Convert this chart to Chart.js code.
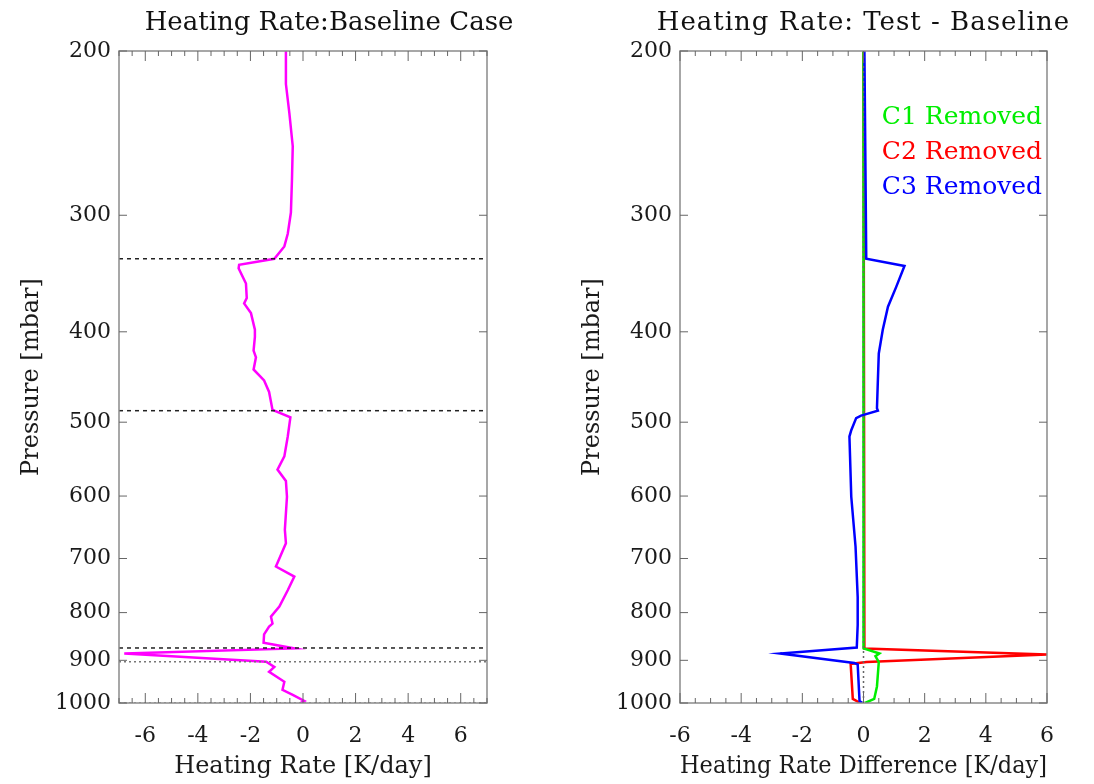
<!DOCTYPE html>
<html>
<head>
<meta charset="utf-8">
<script src="https://cdn.jsdelivr.net/npm/chart.js@4.4.0/dist/chart.umd.min.js"></script>
<style>
  html, body { margin: 0; padding: 0; background: #fff; }
  #wrap { position: relative; width: 1094px; height: 784px; }
  canvas { position: absolute; top: 0; }
  #baseline { left: 0; }
  #difference { left: 561px; }
</style>
</head>
<body>
<div id="wrap">
  <canvas id="baseline" width="561" height="784"></canvas>
  <canvas id="difference" width="533" height="784"></canvas>
</div>
<script>
// tick labels
const pressureTicks = [200, 300, 400, 500, 600, 700, 800, 900, 1000]
const rateTicks = [-6, -4, -2, 0, 2, 4, 6]

// left panel: baseline heating rate profile
const basePressure = [200, 217, 233, 253, 275, 298, 314, 324, 334, 339, 342, 355, 368, 373, 382, 398, 405, 419, 426, 439,
  451, 464, 485, 494, 518, 544, 562, 578, 601, 652, 674, 714, 732, 757, 788, 808, 822, 828, 844, 862,
  874, 885, 903, 915, 926, 949, 968, 980, 995, 1000]
const baseRate = [-0.65, -0.65, -0.52, -0.39, -0.42, -0.46, -0.58, -0.71, -1.09, -2.43, -2.45, -2.17, -2.14, -2.24, -1.98, -1.83, -1.83, -1.88, -1.79, -1.88,
  -1.48, -1.29, -1.16, -0.48, -0.58, -0.71, -0.97, -0.65, -0.61, -0.69, -0.65, -1.03, -0.33, -0.58, -0.90, -1.22, -1.16, -1.29, -1.48, -1.50,
  -0.33, -6.8, -1.4, -1.09, -1.29, -0.71, -0.78, -0.39, 0.05, -0.1]

// horizontal marker levels on the left panel
const dashedLevels = [334, 486, 873]
const dottedLevels = [903, 1000]

// right panel: test minus baseline
const c1Pressure = [200, 874, 885, 891, 904, 960, 990, 1000]
const c1Diff = [0, 0, 0.52, 0.39, 0.50, 0.44, 0.35, 0.05]
const c2Pressure = [200, 874, 887, 904, 908, 990, 1000]
const c2Diff = [0, 0.03, 6.0, 0.1, -0.42, -0.35, -0.1]
const c3Pressure = [200, 334, 340, 358, 376, 398, 422, 451, 483, 486, 492, 495, 510, 518, 601, 680, 770, 825, 872, 885, 906, 909, 995, 1000]
const c3Diff = [0.03, 0.09, 1.34, 1.07, 0.80, 0.63, 0.50, 0.47, 0.44, 0.47, -0.08, -0.24, -0.40, -0.46, -0.40, -0.26, -0.19, -0.19, -0.22, -2.72, -0.30, -0.19, -0.13, -0.04]

const caseLabels = ["C1 Removed", "C2 Removed", "C3 Removed"]
const caseColors = ["#00ee00", "#ff0000", "#0000ff"]

const serif = "'DejaVu Serif', serif"

function toPoints(xs, ps) {
  const pts = []
  for (let i = 0; i < ps.length; i++) {
    pts.push({ x: xs[i], y: ps[i] })
  }
  return pts
}

// box around the plot with inward tick marks on all four sides
const frameTicks = {
  id: 'frameTicks',
  afterDatasetsDraw(chart, args, opts) {
    const ctx = chart.ctx
    const a = chart.chartArea
    const x = chart.scales.x
    const y = chart.scales.y
    ctx.save()
    ctx.strokeStyle = '#8a8a8a'
    ctx.lineWidth = 1.5
    ctx.strokeRect(a.left, a.top, a.right - a.left, a.bottom - a.top)
    ctx.strokeStyle = '#666'
    ctx.lineWidth = 1
    ctx.beginPath()
    for (let v = x.min; v <= x.max + 1e-6; v += 0.5) {
      const px = x.getPixelForValue(v)
      const len = Math.abs(v % 2) < 1e-6 ? 10 : 5
      ctx.moveTo(px, a.top); ctx.lineTo(px, a.top + len)
      ctx.moveTo(px, a.bottom); ctx.lineTo(px, a.bottom - len)
    }
    pressureTicks.forEach(p => {
      const py = y.getPixelForValue(p)
      ctx.moveTo(a.left, py); ctx.lineTo(a.left + 8, py)
      ctx.moveTo(a.right, py); ctx.lineTo(a.right - 8, py)
    })
    ctx.stroke()
    ctx.restore()
  }
}

// panel title, centred over the plot (with a small shift)
const panelTitle = {
  id: 'panelTitle',
  afterDraw(chart, args, opts) {
    const ctx = chart.ctx
    const a = chart.chartArea
    ctx.save()
    ctx.font = '26px ' + serif
    ctx.fillStyle = '#111'
    ctx.textAlign = 'center'
    ctx.textBaseline = 'alphabetic'
    if (opts.spacing) ctx.letterSpacing = opts.spacing
    ctx.fillText(opts.text, (a.left + a.right) / 2 + (opts.shift || 0), 30)
    ctx.restore()
  }
}

// coloured text legend inside the right panel
const textLegend = {
  id: 'textLegend',
  afterDraw(chart, args, opts) {
    if (!opts.show) return
    const ctx = chart.ctx
    const a = chart.chartArea
    ctx.save()
    ctx.font = '25px ' + serif
    ctx.textAlign = 'left'
    ctx.textBaseline = 'middle'
    for (let i = 0; i < caseLabels.length; i++) {
      ctx.fillStyle = caseColors[i]
      ctx.fillText(caseLabels[i], a.left + 0.55 * (a.right - a.left), a.top + 66 + i * 35)
    }
    ctx.restore()
  }
}

function makeScales(xmin, xmax, xTitle) {
  return {
    x: {
      type: 'linear', min: xmin, max: xmax,
      afterBuildTicks: s => { s.ticks = rateTicks.map(v => ({ value: v })) },
      afterFit: s => { s.height = 81 },
      grid: { display: false, drawTicks: false },
      border: { display: false },
      ticks: { font: { family: serif, size: 22 }, color: '#1a1a1a', padding: 20, maxRotation: 0, autoSkip: false, callback: v => String(v) },
      title: { display: true, text: xTitle, font: { family: serif, size: 24 }, color: '#1a1a1a', padding: { top: 0, bottom: 3 } }
    },
    y: {
      type: 'logarithmic', reverse: true, min: 200, max: 1000,
      afterBuildTicks: s => { s.ticks = pressureTicks.map(v => ({ value: v })) },
      afterFit: s => { s.width = 119 },
      grid: { display: false, drawTicks: false },
      border: { display: false },
      ticks: { font: { family: serif, size: 22 }, color: '#1a1a1a', padding: 8, autoSkip: false, callback: v => String(v) },
      title: { display: true, text: 'Pressure [mbar]', font: { family: serif, size: 24 }, color: '#1a1a1a', padding: { top: 17, bottom: 0 } }
    }
  }
}

//left chart datasets: marker lines first so they sit on top
const leftSets = []
dashedLevels.forEach(p => {
  leftSets.push({ data: [{ x: -7, y: p }, { x: 7, y: p }], borderColor: '#222', borderWidth: 1.5, borderDash: [4, 4] })
})
dottedLevels.forEach(p => {
  leftSets.push({ data: [{ x: -7, y: p }, { x: 7, y: p }], borderColor: '#777', borderWidth: 1.5, borderDash: [2, 3] })
})
leftSets.push({ label: 'Baseline', data: toPoints(baseRate, basePressure), borderColor: '#ff00ff', borderWidth: 2.5 })

new Chart(document.getElementById('baseline'), {
  type: 'scatter',
  data: { datasets: leftSets },
  options: {
    responsive: false,
    animation: false,
    showLine: true,
    layout: { padding: { top: 51, left: 0, right: 74, bottom: 0 } },
    elements: { point: { radius: 0 }, line: { tension: 0 } },
    scales: makeScales(-7, 7, 'Heating Rate [K/day]'),
    plugins: {
      legend: { display: false }, tooltip: { enabled: false },
      panelTitle: { text: 'Heating Rate:Baseline Case', shift: 26 },
      textLegend: { show: false }
    }
  },
  plugins: [frameTicks, panelTitle, textLegend]
})

// right chart: zero line on top, then C3, C1, and C2 underneath
const rightSets = [
  { data: [{ x: 0, y: 200 }, { x: 0, y: 1000 }], borderColor: '#666', borderWidth: 1.5, borderDash: [2, 3] },
  { label: caseLabels[2], data: toPoints(c3Diff, c3Pressure), borderColor: caseColors[2], borderWidth: 2.5 },
  { label: caseLabels[0], data: toPoints(c1Diff, c1Pressure), borderColor: caseColors[0], borderWidth: 2.5 },
  { label: caseLabels[1], data: toPoints(c2Diff, c2Pressure), borderColor: caseColors[1], borderWidth: 2.5 }
]

new Chart(document.getElementById('difference'), {
  type: 'scatter',
  data: { datasets: rightSets },
  options: {
    responsive: false,
    animation: false,
    showLine: true,
    layout: { padding: { top: 51, left: 0, right: 47, bottom: 0 } },
    elements: { point: { radius: 0 }, line: { tension: 0 } },
    scales: makeScales(-6, 6, 'Heating Rate Difference [K/day]'),
    plugins: {
      legend: { display: false }, tooltip: { enabled: false },
      panelTitle: { text: 'Heating Rate: Test - Baseline', shift: 0, spacing: '1px' },
      textLegend: { show: true }
    }
  },
  plugins: [frameTicks, panelTitle, textLegend]
})
</script>
</body>
</html>
